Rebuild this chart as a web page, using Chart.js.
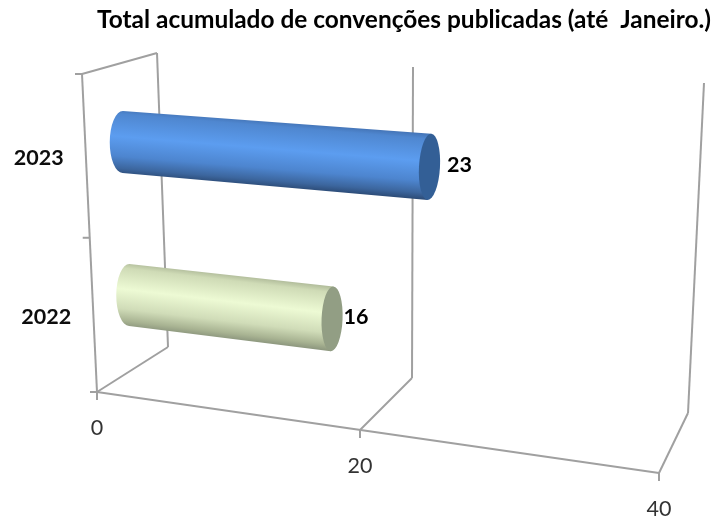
<!DOCTYPE html>
<html>
<head>
<meta charset="utf-8">
<style>html,body{margin:0;padding:0;background:#fff}canvas{display:block}</style>
<script src="https://cdn.jsdelivr.net/npm/chart.js@4"></script>
</head>
<body>
<canvas id="c" width="713" height="522"></canvas>
<script>
const titleText = 'Total acumulado de convenções publicadas (até  Janeiro.)';
const categories = ['2023', '2022'];
const values = [23, 16];
const axisTicks = [0, 20, 40];

// Perspective box: screen position of each wall edge at start / middle / end of the value axis.
const EDGES = {
  frontBottom: [[97,392],[360,430],[659,473]],
  backBottom:  [[168,347],[412,378],[688,413]],
  backTop:     [[157,53],[413,67],[704,83]],
  frontTop:    [[82,74],[361,94],[679,117]]
};
const BAR_DEPTH = 0.5;
const BAR_DROP = 2;
const GRID = '#a0a0a0';
const BODY_STOPS = [
  [[0,'#4474b6'],[0.08,'#4f87d0'],[0.42,'#5c9df0'],[0.72,'#4d85cf'],[0.9,'#3c669e'],[1,'#2c4b76']],
  [[0,'#aeb998'],[0.1,'#cfdbb6'],[0.42,'#edfad4'],[0.72,'#d0dcb8'],[0.9,'#a8b392'],[1,'#8a947c']]
];
const CAP_COLORS = ['#335f96', '#929e84'];

function q3(c, t, i) {
  const a = c[0][i], m = c[1][i], e = c[2][i];
  return a*(1-t)*(1-2*t) + 4*m*t*(1-t) + e*t*(2*t-1);
}
function project(t, u, d) {
  const out = [0, 1].map(i => {
    const bot = q3(EDGES.frontBottom,t,i)*(1-d) + q3(EDGES.backBottom,t,i)*d;
    const top = q3(EDGES.frontTop,t,i)*(1-d) + q3(EDGES.backTop,t,i)*d;
    return top*(1-u) + bot*u;
  });
  return {x: out[0], y: out[1]};
}
function line(ctx, a, b) {
  ctx.beginPath(); ctx.moveTo(a.x,a.y); ctx.lineTo(b.x,b.y); ctx.stroke();
}

const box3d = {
  id: 'box3d',
  beforeDatasetsDraw(chart) {
    const ctx = chart.ctx, xs = chart.scales.x, ys = chart.scales.y;
    const w = xs.right - xs.left;
    ctx.save();
    ctx.strokeStyle = GRID; ctx.lineWidth = 2; ctx.lineCap = 'butt';
    xs.ticks.forEach(tk => {
      const t = (xs.getPixelForValue(tk.value) - xs.left) / w;
      const fb = project(t,1,0), bb = project(t,1,1), bt = project(t,0,1);
      line(ctx, fb, bb);
      line(ctx, bb, bt);
      line(ctx, fb, {x: fb.x, y: fb.y + 8});
      ctx.fillStyle = '#333';
      ctx.font = '21.5px Lato';
      ctx.textAlign = 'center'; ctx.textBaseline = 'middle';
      ctx.fillText(String(tk.value), fb.x, fb.y + 36);
    });
    // front edges
    const fl0 = project(0,0,0), fl1 = project(0,1,0), bl0 = project(0,0,1);
    line(ctx, fl0, fl1);
    line(ctx, fl0, bl0);
    line(ctx, project(0,1,0), project(1,1,0));
    // category boundary ticks
    [0, 0.515, 1].forEach(u => {
      const p = project(0,u,0);
      line(ctx, p, {x: p.x - 7, y: p.y});
    });
    // category labels
    ctx.fillStyle = '#0d0d0d';
    ctx.font = 'bold 21.5px Lato';
    ctx.textAlign = 'right'; ctx.textBaseline = 'middle';
    categories.forEach((c, i) => {
      const u = (ys.getPixelForValue(i) - ys.top) / (ys.bottom - ys.top);
      const p = project(0,u,0);
      ctx.fillText(c, p.x - 22, p.y + 4.5);
    });
    ctx.restore();
  },
  beforeDatasetDraw(chart, args) {
    const ctx = chart.ctx, xs = chart.scales.x, ys = chart.scales.y;
    const w = xs.right - xs.left, h = ys.bottom - ys.top;
    const TILT = 1.5, RX_START = 13, RX_END = 10.5;
    args.meta.data.forEach((bar, i) => {
      const p = bar.getProps(['x','y','base','height'], true);
      const t0 = (p.base - xs.left)/w, t1 = (p.x - xs.left)/w;
      const u0 = (p.y - p.height/2 - ys.top)/h, u1 = (p.y + p.height/2 - ys.top)/h;
      const A0 = project(t0,u0,BAR_DEPTH), B0 = project(t0,u1,BAR_DEPTH);
      const A1 = project(t1,u0,BAR_DEPTH), B1 = project(t1,u1,BAR_DEPTH);
      [A0,A1].forEach(a => { a.x += TILT; a.y += BAR_DROP; });
      [B0,B1].forEach(b => { b.x -= TILT; b.y += BAR_DROP; });
      const end = (A,B) => ({
        cx:(A.x+B.x)/2, cy:(A.y+B.y)/2,
        ry:Math.hypot(B.x-A.x,B.y-A.y)/2,
        rot:Math.atan2(-(B.x-A.x),B.y-A.y)
      });
      const e0 = end(A0,B0), e1 = end(A1,B1);
      // gradient across the cylinder
      const ax = e1.cx-e0.cx, ay = e1.cy-e0.cy, al = Math.hypot(ax,ay);
      const nx = -ay/al, ny = ax/al, mx = (e0.cx+e1.cx)/2, my = (e0.cy+e1.cy)/2, hh = (e0.ry+e1.ry)/2 + 1;
      const g = ctx.createLinearGradient(mx-nx*hh,my-ny*hh,mx+nx*hh,my+ny*hh);
      BODY_STOPS[i].forEach(s => g.addColorStop(s[0],s[1]));
      ctx.save();
      ctx.fillStyle = g;
      ctx.beginPath();
      ctx.moveTo(A0.x,A0.y); ctx.lineTo(A1.x,A1.y); ctx.lineTo(B1.x,B1.y); ctx.lineTo(B0.x,B0.y);
      ctx.ellipse(e0.cx,e0.cy,RX_START,e0.ry,e0.rot,Math.PI/2,Math.PI*1.5,false);
      ctx.closePath(); ctx.fill();
      ctx.fillStyle = CAP_COLORS[i];
      ctx.beginPath();
      ctx.ellipse(e1.cx,e1.cy,RX_END,e1.ry,e1.rot,0,Math.PI*2);
      ctx.fill();
      // data label
      ctx.fillStyle = '#000';
      ctx.font = 'bold 21.5px Lato';
      ctx.textAlign = 'left'; ctx.textBaseline = 'middle';
      ctx.fillText(String(values[i]), e1.cx + RX_END + (i === 0 ? 7 : 1), e1.cy - 2);
      ctx.restore();
    });
    return false;
  }
};

new Chart(document.getElementById('c'), {
  type: 'bar',
  data: {
    labels: categories,
    datasets: [{ data: values, backgroundColor: CAP_COLORS, categoryPercentage: 0.405, barPercentage: 1 }]
  },
  options: {
    indexAxis: 'y',
    responsive: false,
    animation: false,
    layout: { padding: { left: 97, right: 2, top: 0, bottom: 40 } },
    plugins: {
      legend: { display: false },
      tooltip: { enabled: false },
      title: {
        display: true, text: titleText, align: 'end', color: '#000',
        font: { family: 'Lato', size: 24.85, weight: 'bold' },
        padding: { top: 5, bottom: 10 }
      }
    },
    scales: {
      x: { display: false, min: 0, max: 40, afterBuildTicks(s){ s.ticks = axisTicks.map(v => ({value: v})); } },
      y: { display: false }
    }
  },
  plugins: [box3d]
});
</script>
</body>
</html>
